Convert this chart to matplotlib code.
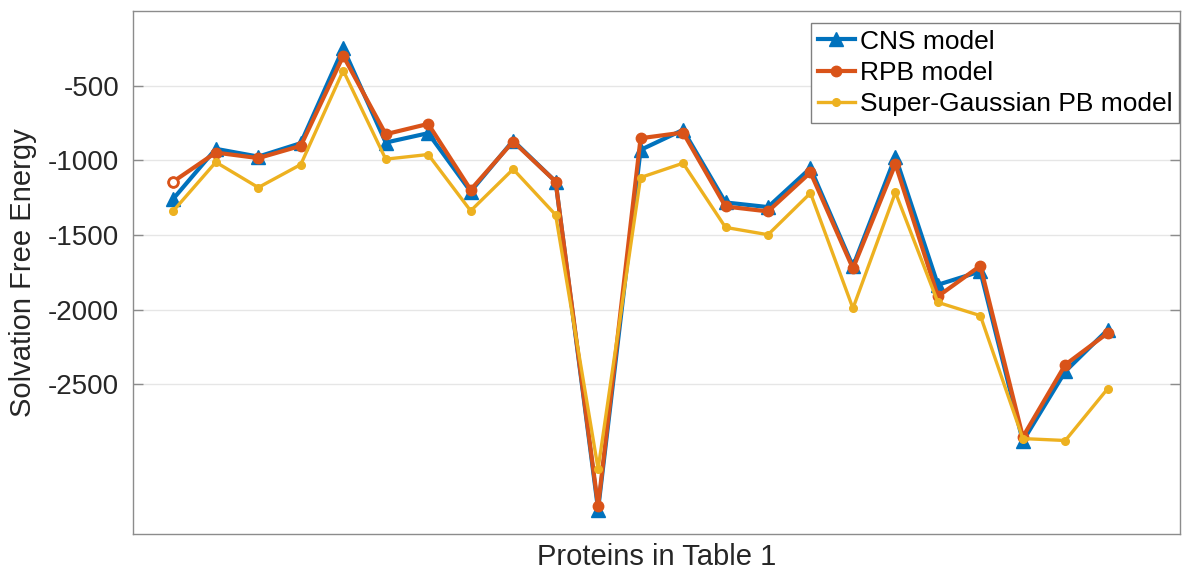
import numpy as np
import matplotlib.pyplot as plt

plt.rcParams['font.family'] = ['Liberation Sans', 'DejaVu Sans']

# solvation free energies, one value per protein
proteins = np.arange(1, 24)
cns = [-1257, -923, -975, -885, -249, -881, -818, -1209, -868, -1142,
       -3338, -930, -796, -1282, -1313, -1052, -1710, -975, -1833, -1744,
       -2881, -2413, -2134]
rpb = [-1142, -948, -985, -903, -301, -825, -756, -1197, -874, -1142,
       -3316, -852, -814, -1309, -1342, -1081, -1724, -1025, -1911, -1706,
       -2852, -2368, -2156]
sgpb = [-1338, -1012, -1182, -1028, -399, -992, -961, -1338, -1059, -1365,
        -3066, -1115, -1019, -1449, -1498, -1219, -1991, -1215, -1951, -2040,
        -2863, -2876, -2528]

yticks = [-2500, -2000, -1500, -1000, -500]

fig = plt.figure(figsize=(11.83, 5.73), dpi=100)
ax = fig.add_axes([133 / 1183, 1 - 533.7 / 573, (1180 - 133) / 1183, (533.7 - 11) / 573])

ax.plot(proteins, cns, color='#0072BD', lw=3, marker='^', ms=10, label='CNS model')
ax.plot(proteins, rpb, color='#D95319', lw=3, marker='o', ms=7.5, label='RPB model')
# the first RPB marker is drawn hollow in the original
ax.plot(proteins[:1], rpb[:1], ls='none', marker='o', ms=7, mfc='white',
        mec='#D95319', mew=2)
ax.plot(proteins, sgpb, color='#EDB120', lw=2.4, marker='o', ms=5.5,
        label='Super-Gaussian PB model')

ax.set_xlim(0.05, 24.7)
ax.set_ylim(-3500, 0)
ax.set_xticks([])
ax.set_yticks(yticks)
ax.set_yticklabels([str(v) for v in yticks])
ax.grid(axis='y', color='#e6e6e6', lw=1)
ax.set_axisbelow(True)

for s in ax.spines.values():
    s.set_color('#8c8c8c')
    s.set_linewidth(1)
ax.tick_params(axis='y', direction='in', length=7, width=1, color='#8c8c8c',
               labelsize=20, labelcolor='#262626', pad=10, right=True)

ax.set_xlabel('Proteins in Table 1', fontsize=21, color='#262626', labelpad=7)
ax.set_ylabel('Solvation Free Energy', fontsize=21, color='#262626', labelpad=8)

leg = ax.legend(loc='upper right', bbox_to_anchor=(1179 / 1183, 1 - 23 / 573),
                bbox_transform=fig.transFigure, borderaxespad=0, fontsize=19,
                fancybox=False, framealpha=1, edgecolor='#808080',
                handlelength=1.4, handletextpad=0.2, labelspacing=0.28,
                borderpad=0.25)
leg.get_frame().set_linewidth(1)

fig.savefig('out.png', dpi=100)
